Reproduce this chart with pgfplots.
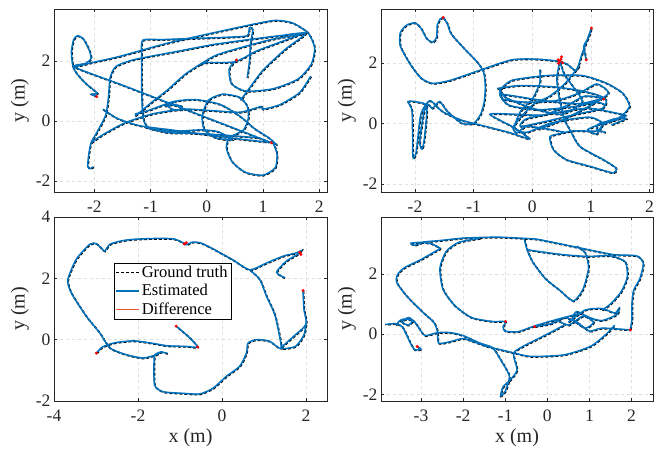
\documentclass[border=0pt]{standalone}
\usepackage{fontspec}
\setmainfont{Liberation Serif}
\usepackage{pgfplots}
\usepackage{pgfplotstable}
\pgfplotsset{compat=1.18}
\definecolor{estc}{rgb}{0,0.447,0.741}
\definecolor{diffc}{rgb}{0.93,0.33,0.2}
\definecolor{axc}{rgb}{0.15,0.15,0.15}

% ---------------- top-left ----------------
\pgfplotstableread[row sep=\\]{x y\\
-1.96 0.82\\ -2.05 0.90\\ -1.95 0.93\\ -2.15 1.25\\ -2.30 1.55\\ -2.38 1.80\\ -2.41 2.30\\ -2.37 2.72\\ -2.30 2.85\\ -2.20 2.75\\ -2.10 2.40\\ -2.06 2.10\\ -2.15 1.93\\ -2.35 1.80\\ -1.50 1.20\\ -0.60 0.55\\ 0.30 -0.10\\ 1.10 -0.68\\ 1.18 -0.73\\ 1.25 -1.10\\ 1.22 -1.55\\ 1.00 -1.80\\ 0.68 -1.70\\ 0.45 -1.35\\ 0.35 -0.90\\ 0.40 -0.55\\ 0.65 -0.30\\ 0.74 0.10\\ 0.72 0.50\\ 0.58 0.80\\ 0.28 0.90\\ 0.03 0.70\\ -0.08 0.20\\ -0.05 -0.25\\ 0.15 -0.55\\ 0.45 -0.62\\ 0.20 -0.35\\ -0.12 -0.29\\ -0.60 -0.34\\ -1.00 -0.25\\ -1.12 0.00\\ -1.15 0.50\\ -1.16 1.27\\ -1.16 2.20\\ -1.14 2.70\\ -0.80 2.72\\ -0.20 2.76\\ 0.40 2.80\\ 0.72 2.85\\ 0.76 3.12\\ 0.82 3.05\\ 0.78 2.60\\ 0.76 2.00\\ 0.72 1.45\\
}\TLa
\pgfplotstableread[row sep=\\]{x y\\
0.53 2.04\\ 0.40 1.75\\ 0.44 1.25\\ 0.70 1.00\\ 1.18 1.08\\ 1.62 1.40\\ 1.86 1.90\\ 1.92 2.45\\ 1.80 2.95\\ 1.52 3.28\\ 1.22 3.36\\ 0.85 3.24\\ 0.20 2.98\\ -0.70 2.60\\ -1.55 2.16\\ -2.05 1.95\\ -2.33 1.82\\
}\TLb
\pgfplotstableread[row sep=\\]{x y\\
-2.02 -1.52\\ -2.08 -1.58\\ -2.12 -1.50\\ -2.10 -1.10\\ -2.06 -0.72\\ -1.95 -0.35\\ -1.80 0.20\\ -1.75 0.80\\ -1.72 1.45\\ -1.62 1.82\\ -1.30 2.05\\ -0.60 2.30\\ 0.10 2.55\\ 0.75 2.72\\ 1.30 2.85\\ 1.76 2.93\\ 1.40 2.40\\ 1.00 1.70\\ 0.72 1.00\\ 0.60 0.70\\
}\TLc
\pgfplotstableread[row sep=\\]{x y\\
-2.06 -0.72\\ -1.85 -0.45\\ -1.45 -0.05\\ -0.95 0.25\\ -0.40 0.40\\ 0.10 0.35\\ 0.60 0.30\\ 0.97 0.49\\ 1.00 0.40\\ 1.30 0.55\\ 1.65 0.95\\ 1.85 1.50\\
}\TLd
\pgfplotstableread[row sep=\\]{x y\\
-1.28 0.18\\ -1.22 0.25\\ -1.00 0.60\\ -0.70 1.04\\ -0.36 1.60\\ 0.12 2.16\\ 0.47 2.38\\ 1.12 2.71\\ 1.75 2.93\\
}\TLe
\pgfplotstableread[row sep=\\]{x y\\
-1.85 0.40\\ -1.60 0.10\\ -1.20 -0.15\\ -0.60 -0.30\\ 0.00 -0.45\\ 0.60 -0.60\\ 1.10 -0.70\\
}\TLf
\pgfplotstableread[row sep=\\]{x y\\
-0.75 0.50\\ -0.60 0.55\\ -0.45 0.50\\ -0.45 0.38\\ -0.62 0.40\\ -0.70 0.55\\ -0.55 0.65\\
}\TLg
\pgfplotstableread[row sep=\\]{x y\\
-0.12 1.88\\ 0.00 1.95\\ 0.50 1.98\\ 0.90 2.35\\ 1.40 2.70\\ 1.75 2.95\\
}\TLh
\pgfplotstableread[row sep=\\]{x y\\
-1.28 0.24\\ -1.05 0.35\\ -0.60 0.65\\ -0.20 0.72\\ 0.25 0.55\\ 0.60 0.15\\ 0.85 -0.25\\ 1.10 -0.55\\ 1.25 -0.80\\
}\TLi
\pgfplotstableread[row sep=\\]{x y\\
-1.10 -0.20\\ -0.70 -0.38\\ -0.30 -0.40\\ 0.20 -0.45\\ 0.55 -0.50\\ 0.90 -0.55\\
}\TLj
\pgfplotstableread[row sep=\\]{x y\\
0.53 2.04\\ 1.15 -0.72\\ -1.96 0.82\\
}\TLr

% ---------------- top-right ----------------
\pgfplotstableread[row sep=\\]{x y\\
-1.52 3.50\\ -1.57 3.45\\ -1.62 3.25\\ -1.63 2.85\\ -1.70 2.68\\ -1.80 2.80\\ -1.90 3.15\\ -2.00 3.32\\ -2.14 3.25\\ -2.25 3.00\\ -2.25 2.55\\ -2.08 1.95\\ -1.90 1.50\\ -1.70 1.32\\ -1.40 1.42\\ -0.90 1.75\\ -0.35 2.10\\ 0.10 2.12\\ 0.47 2.05\\
}\TRa
\pgfplotstableread[row sep=\\]{x y\\
-1.52 3.50\\ -1.45 3.30\\ -1.38 2.95\\ -1.15 2.45\\ -0.95 2.05\\ -0.83 1.70\\ -0.80 1.20\\ -0.82 0.70\\ -0.88 0.30\\ -1.00 0.00\\ -1.20 0.00\\ -1.45 0.40\\ -1.58 0.72\\ -1.70 0.50\\ -1.78 0.62\\ -1.85 0.35\\ -1.92 -0.60\\ -1.88 -0.85\\ -1.84 -0.50\\ -1.80 0.55\\ -1.95 0.70\\ -2.12 0.72\\ -2.05 0.40\\ -2.04 -0.90\\ -2.03 -1.15\\ -1.98 -0.95\\ -1.90 0.30\\ -1.75 0.75\\ -1.60 0.50\\ -1.50 0.35\\ -1.20 0.10\\ -0.80 -0.10\\ -0.40 -0.30\\ -0.05 -0.52\\ -0.15 -0.35\\ -0.35 -0.10\\ -0.72 0.30\\ -0.30 0.30\\ 0.20 0.28\\ 0.60 0.60\\ 0.90 0.90\\ 1.25 0.80\\ 1.20 0.50\\ 0.75 0.30\\ 0.20 0.05\\ -0.20 -0.10\\ -0.10 0.15\\ 0.40 0.35\\ 0.95 0.50\\ 1.40 0.35\\ 1.60 0.25\\ 1.40 0.10\\ 1.15 0.00\\ 1.10 -0.20\\ 1.25 -0.30\\
}\TRb
\pgfplotstableread[row sep=\\]{x y\\
-0.55 1.10\\ -0.35 1.42\\ 0.25 1.58\\ 0.85 1.58\\ 1.26 1.33\\ 1.54 1.00\\ 1.66 0.56\\ 1.48 0.18\\ 1.20 -0.05\\ 1.11 -0.25\\ 0.70 -0.25\\ 0.45 -0.35\\ 0.30 -0.45\\ 0.36 -0.87\\ 0.58 -1.20\\ 0.98 -1.42\\ 1.38 -1.64\\ 1.43 -1.48\\ 1.21 -1.20\\ 0.81 -0.76\\ 0.64 -0.21\\ 0.55 0.10\\ 0.50 0.50\\ 0.45 0.95\\ 0.42 1.50\\ 0.47 2.05\\
}\TRc
\pgfplotstableread[row sep=\\]{x y\\
0.47 2.05\\ 0.60 1.95\\ 0.75 1.75\\ 0.85 2.30\\ 1.01 3.15\\ 0.95 2.80\\ 0.88 2.55\\ 0.92 2.10\\
}\TRd
\pgfplotstableread[row sep=\\]{x y\\
0.47 2.05\\ 0.55 1.60\\ 0.70 1.20\\ 0.85 0.70\\ 0.50 0.30\\ 0.00 0.50\\ -0.45 0.85\\ -0.55 1.10\\ -0.50 0.80\\ -0.10 0.70\\ 0.40 0.75\\ 0.80 1.00\\ 1.10 1.30\\ 1.30 1.00\\ 1.00 0.60\\ 0.50 0.10\\ 0.10 -0.20\\
}\TRe
\pgfplotstableread[row sep=\\]{x y\\
0.13 1.78\\ 0.13 1.34\\ 0.00 0.80\\ -0.20 0.40\\ -0.30 -0.15\\ -0.10 -0.30\\ 0.30 0.00\\ 0.70 0.15\\ 1.00 0.20\\ 1.20 0.00\\ 1.10 -0.35\\ 0.95 -0.20\\ 1.40 0.15\\ 1.60 0.15\\ 1.35 -0.05\\
}\TRf
\pgfplotstableread[row sep=\\]{x y\\
-0.60 1.15\\ -0.20 1.25\\ 0.40 1.20\\ 0.90 1.05\\ 1.20 0.85\\ 0.80 0.65\\ 0.20 0.75\\ -0.30 0.90\\ -0.55 0.95\\ -0.40 0.60\\ 0.10 0.45\\ 0.70 0.55\\ 1.10 0.70\\ 1.25 0.60\\
}\TRg
\pgfplotstableread[row sep=\\]{x y\\
0.80 1.89\\ 0.55 1.30\\ 0.30 0.90\\ 0.00 0.60\\ -0.32 -0.10\\ -0.26 -0.32\\ -0.10 -0.10\\ 0.30 -0.20\\ 0.55 -0.30\\
}\TRh
\pgfplotstableread[row sep=\\]{x y\\
0.47 2.05\\ 0.49 2.12\\ 0.45 1.98\\ 0.50 2.20\\ 0.52 2.00\\ 0.44 2.10\\ -1.52 3.50\\ 0.92 2.10\\ 1.01 3.15\\ 1.22 0.80\\
}\TRr

% ---------------- bottom-left ----------------
\pgfplotstableread[row sep=\\]{x y\\
-2.99 -0.44\\ -2.85 -0.24\\ -2.55 -0.10\\ -2.10 -0.04\\ -1.65 -0.12\\ -1.30 -0.20\\ -0.85 -0.22\\ -0.58 -0.24\\ -0.80 0.10\\ -1.09 0.44\\
}\BLa
\pgfplotstableread[row sep=\\]{x y\\
-1.30 -0.45\\ -1.45 -0.40\\ -1.56 -0.49\\ -1.88 -0.60\\ -2.28 -0.49\\ -2.67 -0.27\\ -2.91 0.22\\ -3.23 0.76\\ -3.59 1.53\\ -3.67 1.96\\ -3.47 2.62\\ -3.15 3.11\\ -2.99 3.13\\ -2.85 2.95\\ -2.79 2.89\\ -2.67 3.11\\ -2.40 3.22\\ -2.12 3.27\\ -1.60 3.30\\ -1.17 3.29\\ -0.95 3.18\\ -0.85 3.10\\ -0.70 3.18\\ -0.50 3.15\\ -0.20 2.95\\ 0.26 2.60\\ 0.66 2.28\\ 1.06 2.50\\ 1.45 2.72\\ 1.77 2.83\\ 1.88 2.90\\ 1.80 2.78\\ 1.53 2.56\\ 1.30 2.20\\ 1.49 2.02\\
}\BLb
\pgfplotstableread[row sep=\\]{x y\\
0.66 2.28\\ 0.90 1.96\\ 1.06 1.42\\ 1.21 0.98\\ 1.29 0.65\\ 1.41 -0.28\\ 1.13 -0.05\\ 0.82 0.00\\ 0.62 -0.11\\ 0.58 -0.44\\ 0.42 -0.87\\ 0.10 -1.20\\ -0.21 -1.58\\ -0.53 -1.77\\ -0.93 -1.75\\ -1.40 -1.70\\ -1.60 -1.50\\ -1.62 -0.90\\ -1.60 -0.50\\ -1.45 -0.40\\
}\BLc
\pgfplotstableread[row sep=\\]{x y\\
1.93 1.60\\ 1.95 1.00\\ 2.00 0.50\\ 1.70 0.10\\ 1.41 -0.28\\ 1.75 -0.22\\ 1.95 0.15\\ 2.00 0.50\\
}\BLd
\pgfplotstableread[row sep=\\]{x y\\
-2.99 -0.44\\ -1.09 0.44\\ 1.85 2.85\\ 1.88 2.78\\ -0.85 3.16\\ -0.90 3.12\\ -0.58 -0.24\\ 1.93 1.60\\
}\BLr

% ---------------- bottom-right ----------------
\pgfplotstableread[row sep=\\]{x y\\
-3.25 3.02\\ -3.15 2.95\\ -2.93 3.06\\ -2.60 3.10\\ -1.98 3.19\\ -1.19 3.22\\ -0.55 3.18\\ -0.24 3.15\\ 0.30 3.00\\ 0.78 2.86\\ 1.57 2.64\\ 2.12 2.60\\ 2.28 2.35\\ 2.20 1.85\\ 2.05 1.45\\ 2.01 1.00\\ 2.01 0.50\\ 1.97 0.14\\
}\BRa
\pgfplotstableread[row sep=\\]{x y\\
-3.25 3.02\\ -3.00 3.05\\ -2.75 3.00\\ -2.55 2.85\\ -2.62 2.78\\ -3.01 2.47\\ -3.40 2.20\\ -3.56 1.97\\ -3.58 1.72\\ -3.33 1.25\\ -2.95 0.72\\ -2.70 0.40\\ -2.61 0.10\\ -2.58 -0.30\\ -2.30 -0.25\\ -1.98 -0.15\\ -1.43 -0.41\\ -0.80 -0.62\\ -0.40 -0.74\\ 0.39 -0.69\\ 1.02 -0.41\\ 1.40 0.00\\ 1.60 0.30\\
}\BRb
\pgfplotstableread[row sep=\\]{x y\\
-1.60 3.18\\ -2.10 3.05\\ -2.40 2.75\\ -2.55 2.20\\ -2.48 1.50\\ -2.20 0.95\\ -1.80 0.55\\ -1.30 0.42\\ -0.99 0.42\\ -1.05 0.25\\ -1.00 0.10\\ -0.70 0.08\\ -0.35 0.25\\ 0.00 0.40\\ 0.40 0.55\\ 0.80 0.70\\
}\BRc
\pgfplotstableread[row sep=\\]{x y\\
-0.55 3.18\\ -0.48 2.80\\ -0.35 2.40\\ -0.05 1.85\\ 0.30 1.45\\ 0.62 1.10\\ 0.85 1.50\\ 0.98 2.20\\ 0.90 2.70\\ 0.70 2.92\\
}\BRd
\pgfplotstableread[row sep=\\]{x y\\
0.50 0.40\\ 0.90 0.80\\ 1.30 0.85\\ 1.60 0.70\\ 1.70 0.85\\ 1.65 0.65\\ 1.30 0.45\\ 1.00 0.55\\ 0.70 0.75\\ 0.60 0.50\\ 0.90 0.20\\ 1.10 0.40\\ 0.85 0.60\\ 0.50 0.30\\ 0.20 0.50\\
}\BRe
\pgfplotstableread[row sep=\\]{x y\\
-0.48 2.80\\ 0.30 2.65\\ 0.94 2.58\\ 1.50 2.60\\ 1.85 2.40\\ 1.90 1.90\\ 1.75 1.40\\ 1.50 1.00\\ 1.30 0.80\\
}\BRf
\pgfplotstableread[row sep=\\]{x y\\
-3.60 0.30\\ -3.50 0.45\\ -3.40 0.50\\ -3.20 0.45\\ -3.30 0.30\\ -3.45 0.40\\ -3.30 0.55\\ -3.15 0.40\\ -3.00 0.10\\ -2.90 -0.05\\ -2.60 0.05\\ -2.30 0.05\\ -2.00 -0.05\\ -1.60 -0.30\\ -1.30 -0.45\\ -1.11 -0.85\\ -0.90 -1.40\\ -1.00 -1.90\\ -1.11 -2.05\\ -1.05 -1.75\\ -0.88 -1.52\\ -0.72 -1.19\\ -0.80 -0.63\\ -0.50 -0.35\\ 0.00 0.00\\ 0.40 0.30\\
}\BRg
\pgfplotstableread[row sep=\\]{x y\\
-3.09 -0.41\\ -3.00 -0.50\\ -3.15 -0.52\\ -3.25 -0.30\\ -3.35 0.00\\ -3.45 0.25\\ -3.60 0.35\\ -3.85 0.32\\
}\BRh
\pgfplotstableread[row sep=\\]{x y\\
-0.30 0.25\\ 0.10 0.35\\ 0.40 0.55\\ 0.70 0.40\\ 1.00 0.10\\ 1.30 0.20\\ 1.97 0.14\\
}\BRi
\pgfplotstableread[row sep=\\]{x y\\
-3.09 -0.41\\ -0.99 0.42\\ -0.30 0.25\\ 1.97 0.14\\
}\BRr

\pgfplotsset{
  traj/.style={
    scale only axis, anchor=south west,
    axis line style={axc, line width=0.7pt},
    tick style={axc, line width=0.6pt},
    major tick length=3pt, tick align=inside,
    grid=major, grid style={dashed, gray!25, line width=0.4pt},
    xticklabel={\pgfmathprintnumber[assume math mode=true]{\tick}},
    yticklabel={\pgfmathprintnumber[assume math mode=true]{\tick}},
    ticklabel style={font=\fontsize{17.5}{19}\selectfont, text=axc},
    xticklabel style={yshift=-5pt},
    label style={font=\fontsize{20}{22}\selectfont, text=axc},
    ylabel={y (m)},
  },
  gt/.style={black, dash pattern=on 3pt off 2pt, line width=1.7pt, smooth, tension=0.4, forget plot, xshift=0.5pt, yshift=-0.5pt},
  est/.style={estc, line width=1.5pt, smooth, tension=0.4, forget plot},
  dif/.style={only marks, mark=*, mark size=1.3pt, red, forget plot},
}
\newcommand\gtp[1]{\addplot[gt] table {#1};}
\newcommand\esp[1]{\addplot[est] table {#1};}

\begin{document}
\begin{tikzpicture}
\useasboundingbox (0,0) rectangle (662pt,450pt);

% top-left
\begin{axis}[traj, at={(54pt,258pt)}, width=273pt, height=183pt,
  xmin=-2.72, xmax=2.14, ymin=-2.36, ymax=3.74,
  xtick={-2,-1,0,1,2}, ytick={-2,0,2}]
\gtp{\TLa}\gtp{\TLb}\gtp{\TLc}\gtp{\TLd}\gtp{\TLe}\gtp{\TLf}\gtp{\TLg}\gtp{\TLh}\gtp{\TLi}\gtp{\TLj}
\esp{\TLa}\esp{\TLb}\esp{\TLc}\esp{\TLd}\esp{\TLe}\esp{\TLf}\esp{\TLg}\esp{\TLh}\esp{\TLi}\esp{\TLj}
\addplot[dif] table {\TLr};
\end{axis}

% top-right
\begin{axis}[traj, at={(381pt,258pt)}, width=272pt, height=183pt,
  xmin=-2.58, xmax=2.06, ymin=-2.27, ymax=3.78,
  xtick={-2,-1,0,1,2}, ytick={-2,0,2}]
\gtp{\TRa}\gtp{\TRb}\gtp{\TRc}\gtp{\TRd}\gtp{\TRe}\gtp{\TRf}\gtp{\TRg}\gtp{\TRh}
\esp{\TRa}\esp{\TRb}\esp{\TRc}\esp{\TRd}\esp{\TRe}\esp{\TRf}\esp{\TRg}\esp{\TRh}
\addplot[dif] table {\TRr};
\end{axis}

% bottom-left
\begin{axis}[traj, at={(54pt,49pt)}, width=273pt, height=184pt,
  xmin=-4, xmax=2.5, ymin=-2, ymax=4,
  xtick={-4,-2,0,2}, ytick={-2,0,2,4}, xlabel={x (m)},
  legend style={at={(0.219,0.752)}, anchor=north west, draw=black, line width=0.5pt,
    font=\fontsize{16.5}{17.5}\selectfont, inner sep=1.5pt, row sep=1.2pt, fill=white},
  legend cell align=left,
  legend image code/.code={\draw[#1] (0pt,0pt) -- (23pt,0pt);}]
\addlegendimage{black, dash pattern=on 3pt off 2pt, line width=1.2pt}
\addlegendentry{Ground truth}
\addlegendimage{estc, line width=1.3pt}
\addlegendentry{Estimated}
\addlegendimage{diffc, line width=0.9pt}
\addlegendentry{Difference}
\gtp{\BLa}\gtp{\BLb}\gtp{\BLc}\gtp{\BLd}
\esp{\BLa}\esp{\BLb}\esp{\BLc}\esp{\BLd}
\addplot[dif] table {\BLr};
\end{axis}

% bottom-right
\begin{axis}[traj, at={(381pt,49pt)}, width=272pt, height=184pt,
  xmin=-3.95, xmax=2.51, ymin=-2.22, ymax=3.89,
  xtick={-3,-2,-1,0,1,2}, ytick={-2,0,2}, xlabel={x (m)}]
\gtp{\BRa}\gtp{\BRb}\gtp{\BRc}\gtp{\BRd}\gtp{\BRe}\gtp{\BRf}\gtp{\BRg}\gtp{\BRh}\gtp{\BRi}
\esp{\BRa}\esp{\BRb}\esp{\BRc}\esp{\BRd}\esp{\BRe}\esp{\BRf}\esp{\BRg}\esp{\BRh}\esp{\BRi}
\addplot[dif] table {\BRr};
\end{axis}
\end{tikzpicture}
\end{document}
